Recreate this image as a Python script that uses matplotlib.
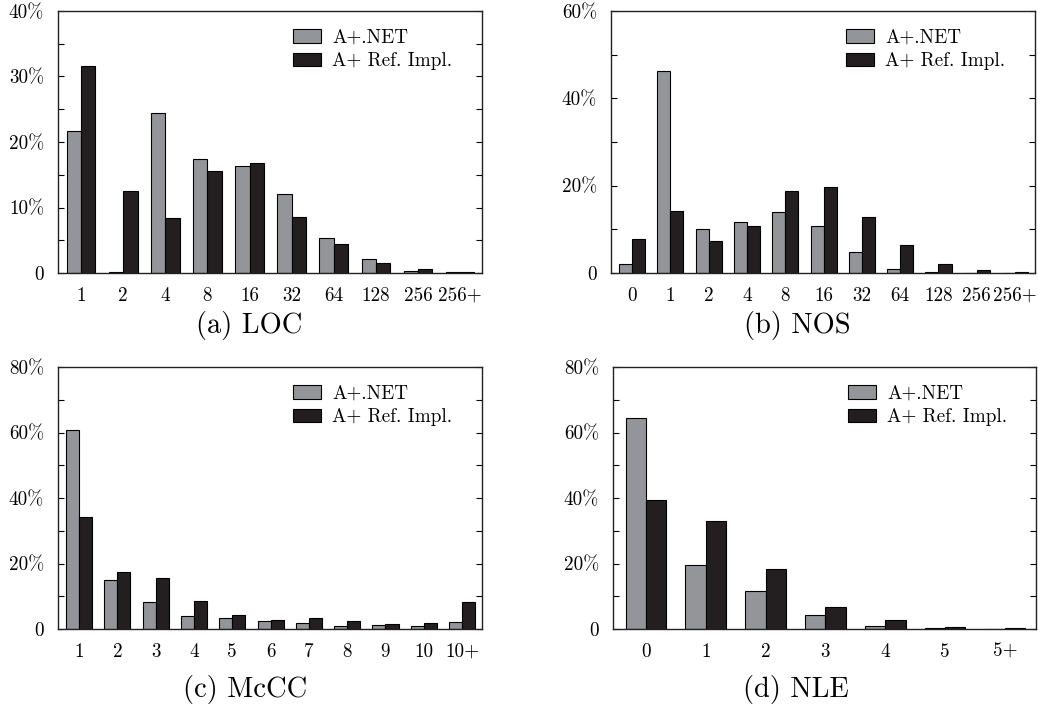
import matplotlib
matplotlib.use('Agg')
import matplotlib.pyplot as plt
import numpy as np

plt.rcParams['font.family'] = ['cmr10', 'DejaVu Serif']
plt.rcParams['mathtext.fontset'] = 'cm'
plt.rcParams['axes.formatter.use_mathtext'] = True

series_labels = ['A+.NET', 'A+ Ref. Impl.']

loc_cats = ['1', '2', '4', '8', '16', '32', '64', '128', '256', '256+']
loc_net = [21.7, 0.1, 24.5, 17.4, 16.3, 12.0, 5.4, 2.2, 0.25, 0.1]
loc_ref = [31.6, 12.5, 8.4, 15.6, 16.8, 8.6, 4.4, 1.5, 0.55, 0.1]

nos_cats = ['0', '1', '2', '4', '8', '16', '32', '64', '128', '256', '256+']
nos_net = [2.1, 46.2, 10.0, 11.6, 14.0, 10.8, 4.7, 1.0, 0.2, 0.05, 0.05]
nos_ref = [7.9, 14.3, 7.4, 10.7, 18.7, 19.7, 12.8, 6.5, 2.1, 0.6, 0.15]

mccc_cats = ['1', '2', '3', '4', '5', '6', '7', '8', '9', '10', '10+']
mccc_net = [60.7, 15.0, 8.3, 4.1, 3.3, 2.3, 1.7, 1.0, 1.1, 0.8, 2.1]
mccc_ref = [34.2, 17.5, 15.5, 8.7, 4.3, 2.8, 3.3, 2.4, 1.4, 1.7, 8.1]

nle_cats = ['0', '1', '2', '3', '4', '5', '5+']
nle_net = [64.3, 19.4, 11.5, 4.3, 0.8, 0.2, 0.1]
nle_ref = [39.3, 32.9, 18.2, 6.7, 2.7, 0.5, 0.3]

W, H = 1038, 711
fig = plt.figure(figsize=(W / 100, H / 100), dpi=100)

GREY = '#939598'
DARK = '#231f20'

panels = [
    dict(cats=loc_cats, net=loc_net, ref=loc_ref, ymax=40, major=10, caption='(a) LOC',
         rect=(58, 11, 482, 273), cap=(249, 326)),
    dict(cats=nos_cats, net=nos_net, ref=nos_ref, ymax=60, major=20, caption='(b) NOS',
         rect=(611, 11, 1035, 273), cap=(797, 326)),
    dict(cats=mccc_cats, net=mccc_net, ref=mccc_ref, ymax=80, major=20, caption='(c) McCC',
         rect=(58, 367, 482, 629), cap=(245, 690)),
    dict(cats=nle_cats, net=nle_net, ref=nle_ref, ymax=80, major=20, caption='(d) NLE',
         rect=(613, 367, 1036, 629), cap=(796, 690)),
]

w = 0.34
FS = 13.8
for p in panels:
    x0, y0, x1, y1 = p['rect']
    ax = fig.add_axes([x0 / W, 1 - y1 / H, (x1 - x0) / W, (y1 - y0) / H])
    n = len(p['cats'])
    x = np.arange(n)
    ax.bar(x - w / 2, p['net'], w, color=GREY, edgecolor='black', linewidth=0.8,
           label=series_labels[0])
    ax.bar(x + w / 2, p['ref'], w, color=DARK, edgecolor='black', linewidth=0.8,
           label=series_labels[1])
    ax.set_xlim(-0.55, n - 1 + 0.52)
    ax.set_ylim(0, p['ymax'])
    ax.set_xticks(x)
    ax.set_xticklabels(p['cats'])
    majors = np.arange(0, p['ymax'] + 1, p['major'])
    ax.set_yticks(majors)
    ax.set_yticklabels(['0' if v == 0 else f'{v}%' for v in majors])
    ax.set_yticks(np.arange(p['major'] / 2, p['ymax'], p['major']), minor=True)
    ax.tick_params(axis='x', length=0, pad=10, labelsize=FS)
    ax.tick_params(axis='y', which='both', direction='in', left=True, right=True,
                   length=4, width=0.8, pad=10, labelsize=FS)
    for s in ax.spines.values():
        s.set_linewidth(1.0)
        s.set_color('#222222')
    lx = 235 / (x1 - x0)
    ly = 1 - 18 / (y1 - y0)
    ax.legend(loc='upper left', bbox_to_anchor=(lx, ly), frameon=False, fontsize=FS,
              handlelength=1.45, handleheight=0.72, handletextpad=0.6,
              labelspacing=0.28, borderpad=0, borderaxespad=0)
    fig.text(p['cap'][0] / W, 1 - p['cap'][1] / H, p['caption'], ha='center', va='center',
             fontsize=20.5)

fig.savefig('out.png', dpi=100)
